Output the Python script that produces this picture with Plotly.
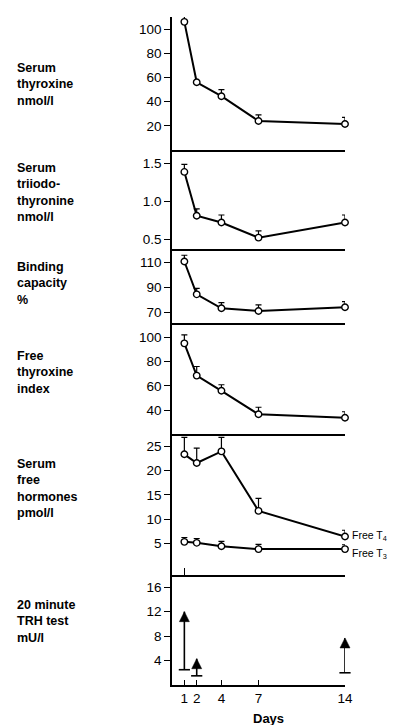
import plotly.graph_objects as go
from plotly.subplots import make_subplots

# ---------------- data ----------------
days = [1, 2, 4, 7, 14]
day_ticks = [1, 2, 4, 7, 14]

serum_t4 = [106, 56, 44.5, 24, 21.5]
serum_t4_se = [8, 1.5, 5.5, 5, 5.5]

serum_t3 = [1.39, 0.81, 0.72, 0.52, 0.72]
serum_t3_se = [0.10, 0.09, 0.10, 0.09, 0.10]

binding = [111, 84.7, 73.5, 71.4, 74.3]
binding_se = [5, 4.8, 4.5, 4.8, 4.5]

fti = [95, 68.5, 56, 36.7, 33.9]
fti_se = [7, 7.5, 5, 5.8, 4.9]

free_t4 = [23.4, 21.6, 24.0, 11.7, 6.4]
free_t4_se = [3.5, 3.1, 2.9, 2.6, 1.3]

free_t3 = [5.3, 5.1, 4.4, 3.8, 3.8]
free_t3_se = [0.9, 0.9, 1.0, 1.0, 0.9]

trh_days = [1, 2, 14]
trh_base = [2.5, 1.5, 2.0]
trh_peak = [12.0, 4.3, 7.7]

panel_labels = [
    "Serum<br>thyroxine<br>nmol/l",
    "Serum<br>triiodo-<br>thyronine<br>nmol/l",
    "Binding<br>capacity<br>%",
    "Free<br>thyroxine<br>index",
    "Serum<br>free<br>hormones<br>pmol/l",
    "20 minute<br>TRH test<br>mU/l",
]
y_ranges = [[0, 110], [0.37, 1.68], [61.5, 121], [20.5, 111.5], [-1.55, 27.6], [0, 18]]
y_ticks = [[20, 40, 60, 80, 100], [0.5, 1.0, 1.5], [70, 90, 110], [40, 60, 80, 100],
           [5, 10, 15, 20, 25], [4, 8, 12, 16]]
y_ticktext = [None, ["0.5", "1.0", "1.5"], None, None, None, None]

# ---------------- figure ----------------
W, H = 393, 725
L, R, T, B = 172, 48, 17, 40
panel_px = [(17, 150), (150, 249), (249, 323.3), (323.3, 434), (434, 575), (575, 685)]
heights = [b - t for t, b in panel_px]

fig = make_subplots(rows=6, cols=1, shared_xaxes=True, vertical_spacing=0,
                    row_heights=heights)

FONT = "Liberation Sans, Arial, sans-serif"
marker = dict(symbol="circle", size=6.5, color="white", line=dict(color="black", width=1.4))


def add_series(row, y, se):
    fig.add_trace(go.Scatter(
        x=days, y=y, mode="lines+markers",
        line=dict(color="black", width=2),
        marker=marker,
        error_y=dict(type="data", symmetric=False, array=se, arrayminus=[0] * len(se),
                     color="black", thickness=1.2, width=3),
        cliponaxis=False, showlegend=False), row=row, col=1)


add_series(1, serum_t4, serum_t4_se)
add_series(2, serum_t3, serum_t3_se)
add_series(3, binding, binding_se)
add_series(4, fti, fti_se)
add_series(5, free_t4, free_t4_se)
add_series(5, free_t3, free_t3_se)

# TRH arrows: stems, base caps and arrow heads
xs, ys = [], []
for d, b0, p in zip(trh_days, trh_base, trh_peak):
    xs += [d, d, None]
    ys += [b0, p, None]
fig.add_trace(go.Scatter(x=xs, y=ys, mode="lines", line=dict(color="black", width=1.6),
                         showlegend=False, cliponaxis=False), row=6, col=1)
fig.add_trace(go.Scatter(x=trh_days, y=trh_base, mode="markers",
                         marker=dict(symbol="line-ew", size=8,
                                     line=dict(color="black", width=1.6)),
                         showlegend=False, cliponaxis=False), row=6, col=1)
fig.add_trace(go.Scatter(x=trh_days, y=trh_peak, mode="markers",
                         marker=dict(symbol="arrow-up", size=10, color="black",
                                     line=dict(color="black", width=0.5)),
                         showlegend=False, cliponaxis=False), row=6, col=1)

annotations = []

# axes
for i in range(6):
    r = i + 1
    fig.update_yaxes(row=r, col=1, range=y_ranges[i], tickvals=y_ticks[i],
                     ticktext=y_ticktext[i], showline=True, linecolor="black",
                     linewidth=1.5, ticks="outside", ticklen=6, tickwidth=1.3,
                     tickcolor="black", showgrid=False, zeroline=False,
                     tickfont=dict(family=FONT, size=13.5, color="black"))
    is_bottom = (r == 6)
    fig.update_xaxes(row=r, col=1, range=[0, 14], showline=True, linecolor="black",
                     linewidth=1.5, showgrid=False, zeroline=False,
                     ticks="inside" if (is_bottom or r == 5) else "",
                     tickvals=day_ticks if is_bottom else [1],
                     ticklen=5 if is_bottom else 7, tickwidth=1.3, tickcolor="black",
                     showticklabels=is_bottom,
                     tickfont=dict(family=FONT, size=13.5, color="black"))

# panel labels
label_centers = [84, 192, 283, 372.7, 488.5, 621]
for txt, yc in zip(panel_labels, label_centers):
    annotations.append(dict(text=txt, xref="paper", yref="paper",
                            x=(15 - L) / (W - L - R), y=(H - B - yc) / (H - T - B),
                            xanchor="left", yanchor="middle", align="left",
                            showarrow=False,
                            font=dict(family=FONT, size=12.5, color="black", weight="bold")))

# series labels in the free-hormone panel
annotations.append(dict(text="Free T<sub>4</sub>", x=14, y=free_t4[-1], xref="x5", yref="y5",
                        xanchor="left", yanchor="middle", xshift=5, yshift=1, showarrow=False,
                        font=dict(family=FONT, size=10.5, color="black")))
annotations.append(dict(text="Free T<sub>3</sub>", x=14, y=free_t3[-1], xref="x5", yref="y5",
                        xanchor="left", yanchor="middle", xshift=5, yshift=-5, showarrow=False,
                        font=dict(family=FONT, size=10.5, color="black")))

# Days title
annotations.append(dict(text="Days", xref="paper", yref="paper",
                        x=(268 - L) / (W - L - R), y=(H - B - 719) / (H - T - B),
                        xanchor="center", yanchor="middle", showarrow=False,
                        font=dict(family=FONT, size=13, color="black", weight="bold")))

fig.update_layout(width=W, height=H, margin=dict(l=L, r=R, t=T, b=B),
                  plot_bgcolor="white", paper_bgcolor="white",
                  annotations=annotations, showlegend=False,
                  font=dict(family=FONT, color="black"))

fig.write_html("out.html", config={"displayModeBar": False},
               post_script="document.body.style.margin='0px';")
